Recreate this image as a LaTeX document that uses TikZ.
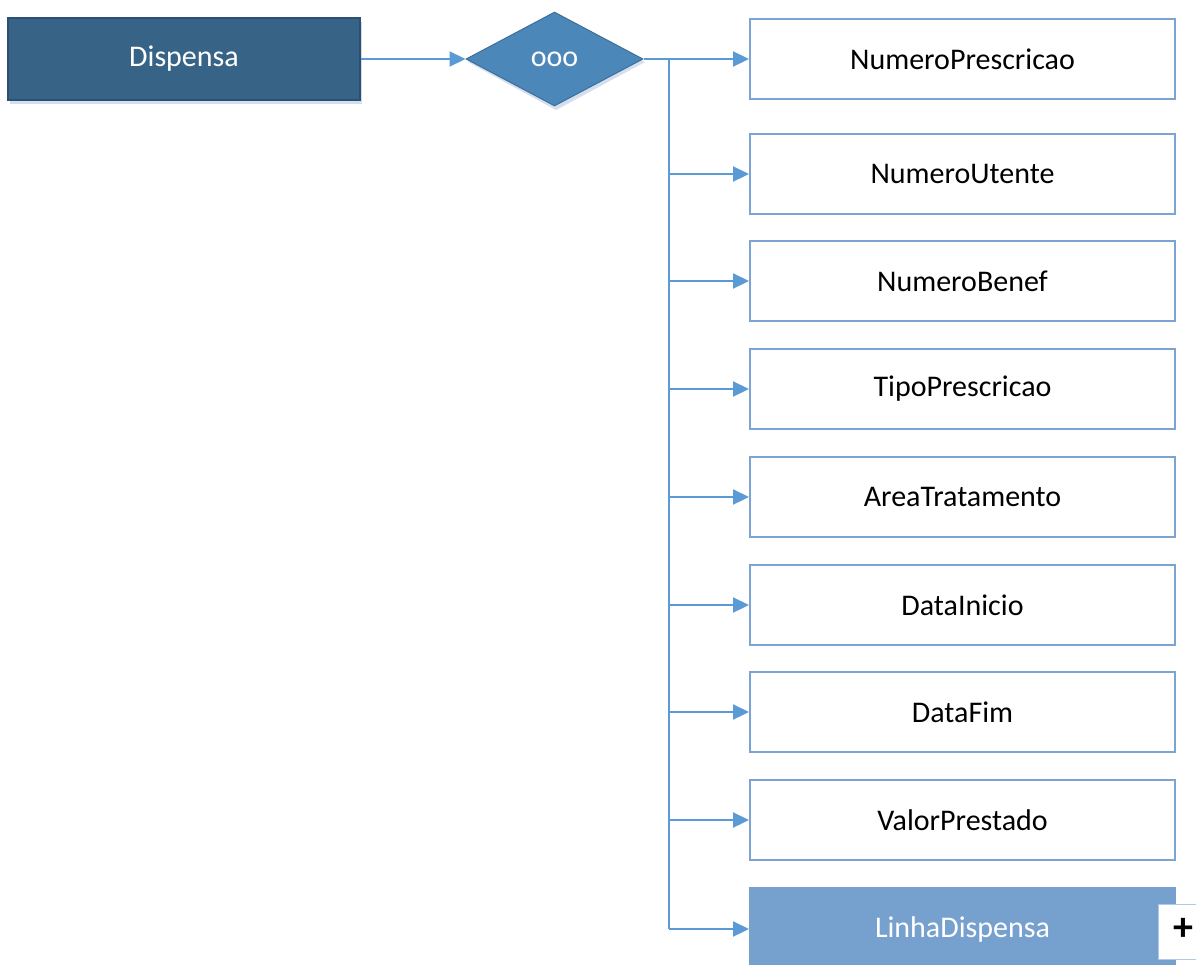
\documentclass[tikz,border=0pt]{standalone}
\usepackage{fontspec}
\setmainfont{Carlito}
\usetikzlibrary{shapes.geometric,arrows.meta}
\definecolor{darkbox}{HTML}{376387}
\definecolor{darkedge}{HTML}{2B5072}
\definecolor{diafill}{HTML}{4C87BA}
\definecolor{diaedge}{HTML}{3E6E99}
\definecolor{linkc}{HTML}{5B9BD5}
\definecolor{boxedge}{HTML}{7BA3D4}
\definecolor{lightfill}{HTML}{76A1CE}
\definecolor{shadowc}{HTML}{D3DFEE}
\tikzset{
  lbl/.style={font=\fontsize{30}{34}\selectfont},
  attr/.style={draw=boxedge, line width=2pt, fill=white, minimum width=425pt, minimum height=80pt, inner sep=0pt, lbl, text=black},
  link/.style={draw=linkc, line width=2.2pt},
  arr/.style={link, -{Triangle[length=16pt,width=15pt]}}
}
\begin{document}
\begin{tikzpicture}[x=1pt,y=-1pt]
\useasboundingbox (0,0) rectangle (1196,964);
% shadows
\fill[shadowc] (10,22) rectangle (362,104);
\fill[shadowc] (468,62) -- (556,15) -- (645,62) -- (556,110) -- cycle;
% root
\node[draw=darkedge, line width=1.2pt, fill=darkbox, minimum width=352pt, minimum height=82pt, inner sep=0pt, text=white, lbl] (root) at (184,59) {Dispensa};
\node[diamond, draw=diaedge, line width=1pt, fill=diafill, minimum width=177pt, minimum height=94pt, inner sep=0pt, aspect=1.88, text=white, lbl] (seq) at (554.5,59) {ooo};
% attributes
\node[attr] (a1) at (962.5,59) {NumeroPrescricao};
\node[attr] (a2) at (962.5,174) {NumeroUtente};
\node[attr] (a3) at (962.5,281) {NumeroBenef};
\node[attr] (a4) at (962.5,389) {TipoPrescricao};
\node[attr] (a5) at (962.5,497) {AreaTratamento};
\node[attr] (a6) at (962.5,605) {DataInicio};
\node[attr] (a7) at (962.5,712) {DataFim};
\node[attr] (a8) at (962.5,820) {ValorPrestado};
\node[attr, fill=lightfill, draw=lightfill, text=white, minimum height=82pt] (a9) at (962.5,929) {LinhaDispensa};
\fill[white, draw=boxedge!60, line width=1pt] (1158,904) rectangle (1210,959);
\node[font=\fontsize{40}{40}\selectfont\bfseries, inner sep=0pt] (plus) at (1183,929) {+};
% connectors
\draw[arr] (root.east) -- (seq.west);
\coordinate (bus) at (669,59);
\coordinate (busend) at (669,929);
\draw[arr] (seq.east) -- (a1.west);
\draw[link] (bus) -- (busend);
\foreach \n in {a2,a3,a4,a5,a6,a7,a8,a9}{
  \draw[arr] (bus |- \n.west) -- (\n.west);
}
\end{tikzpicture}
\end{document}
